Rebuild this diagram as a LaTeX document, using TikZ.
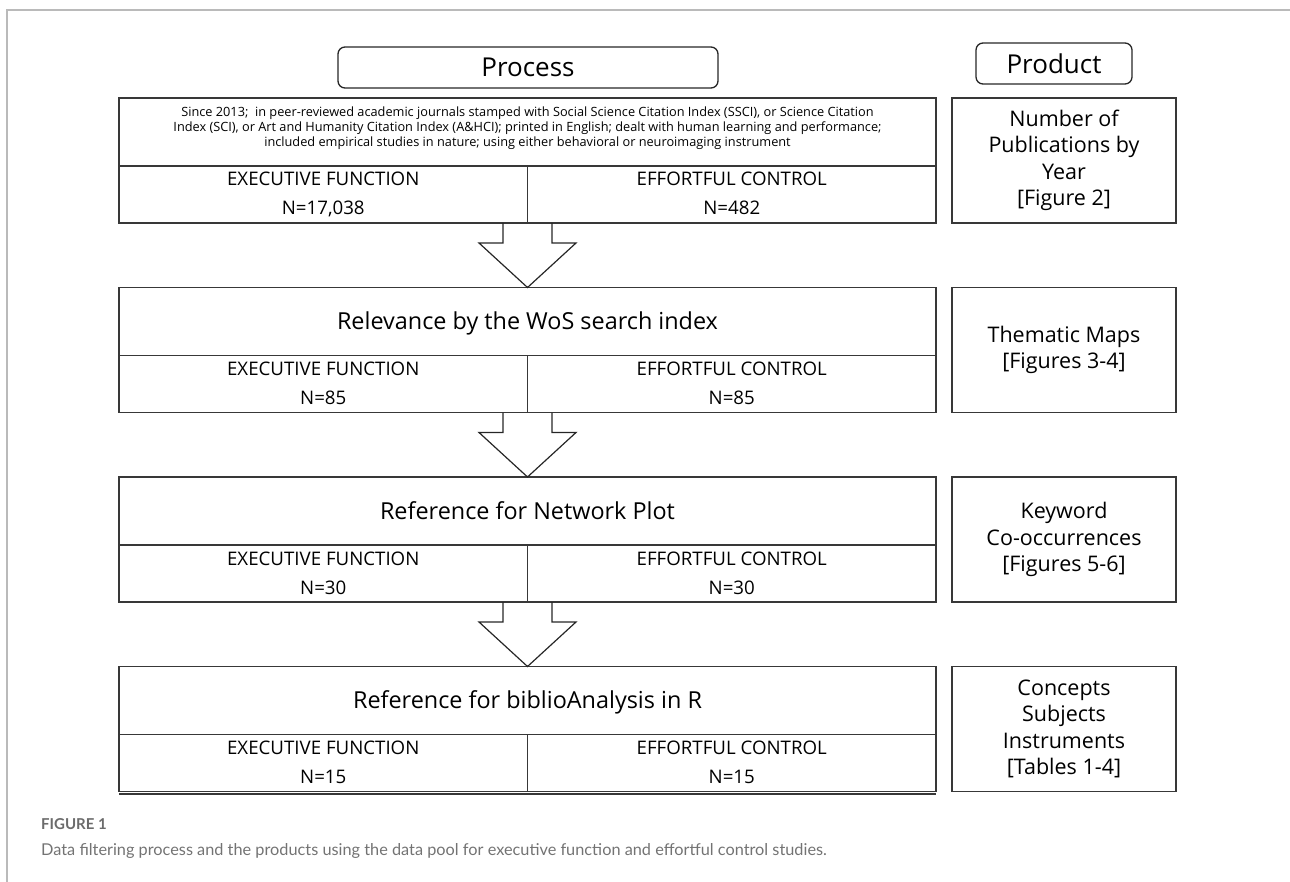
\documentclass[tikz,border=0pt]{standalone}
\usepackage{fontspec}
\setmainfont{Open Sans}
\newfontfamily\capfont{Lato}
\usetikzlibrary{calc}

\tikzset{
  frameline/.style={draw=black!27, line width=1.4pt},
  edge/.style={draw=black!78, line width=1.4pt},
  stagebox/.style={rectangle, draw=black!78, line width=1.4pt, minimum width=817pt,
    minimum height=125pt, inner sep=0pt, outer sep=0pt, anchor=north west},
  prodbox/.style={rectangle, draw=black!78, line width=1.4pt, minimum width=224pt,
    minimum height=125pt, inner sep=0pt, outer sep=0pt, anchor=north west},
  headbox/.style={rectangle, rounded corners=7pt, draw=black!85, line width=1.3pt,
    minimum height=41pt, inner sep=0pt, outer sep=0pt, font=\fontsize{26}{30}\selectfont},
  crit/.style={font=\fontsize{12.75}{15}\selectfont, anchor=base, inner sep=0pt},
  stagetitle/.style={font=\fontsize{23.4}{28}\selectfont, anchor=base, inner sep=0pt},
  armlabel/.style={font=\fontsize{18.7}{22}\selectfont, anchor=base, inner sep=0pt},
  prodtext/.style={font=\fontsize{21.5}{26.5}\selectfont, align=center, inner sep=0pt},
  blockarrow/.style={draw=black!85, line width=1.2pt, line join=miter},
  figlabel/.style={font=\capfont\bfseries\fontsize{15}{18}\selectfont, text=black!58,
    anchor=base west, inner sep=0pt},
  captext/.style={font=\capfont\fontsize{16.3}{20}\selectfont, text=black!55,
    anchor=base west, inner sep=0pt}
}

\begin{document}
\begin{tikzpicture}[x=1pt, y=-1pt]
\useasboundingbox (0,0) rectangle (1290,882);

% page frame
\draw[frameline] (7,882) -- (7,10) -- (1290,10);

% column headers
\node[headbox, minimum width=380pt] (hproc) at (528,67.5) {Process};
\node[headbox, minimum width=156pt] (hprod) at (1054,63.5) {Product};

% filtering stages (left) and their products (right)
\foreach \i/\T in {1/98, 2/287.5, 3/477, 4/666.5} {
  \node[stagebox] (p\i) at (119,\T) {};
  \node[prodbox] (q\i) at (952,\T) {};
  \draw[edge] ($(p\i.north west)+(0,68)$) -- ($(p\i.north east)+(0,68)$);
  \draw[edge] ($(p\i.south)+(0,-57)$) -- (p\i.south);
  \node[armlabel] (ef\i) at ($(p\i.north west)+(204.25,88)$) {EXECUTIVE FUNCTION};
  \node[armlabel] (ec\i) at ($(p\i.north west)+(612.75,88)$) {EFFORTFUL CONTROL};
}

% criteria of the first stage
\node[crit] (c1) at ($(p1.north)+(0,18.5)$) {Since 2013;\ \ in peer-reviewed academic journals stamped with Social Science Citation Index (SSCI), or Science Citation};
\node[crit] (c2) at ($(p1.north)+(0,33.5)$) {Index (SCI), or Art and Humanity Citation Index (A\&HCI); printed in English; dealt with human learning and performance;};
\node[crit] (c3) at ($(p1.north)+(0,48.5)$) {included empirical studies in nature; using either behavioral or neuroimaging instrument};

% stage titles
\node[stagetitle] (t2) at ($(p2.north)+(0,42)$) {Relevance by the WoS search index};
\node[stagetitle] (t3) at ($(p3.north)+(0,42)$) {Reference for Network Plot};
\node[stagetitle] (t4) at ($(p4.north)+(0,42)$) {Reference for biblioAnalysis in R};

% counts
\foreach \i/\a/\b in {1/17{,}038/482, 2/85/85, 3/30/30, 4/15/15} {
  \node[armlabel] (nef\i) at ($(p\i.north west)+(204.25,117)$) {N=\a};
  \node[armlabel] (nec\i) at ($(p\i.north west)+(612.75,117)$) {N=\b};
}

% second rule under the last stage
\draw[edge] ($(p4.south west)+(0,2.6)$) -- ($(p4.south east)+(0,2.6)$);

% product texts
\node[prodtext] (r1) at (q1.center) {Number of\\Publications by\\Year\\{[Figure 2]}};
\node[prodtext] (r2) at (q2.center) {Thematic Maps\\{[Figures 3-4]}};
\node[prodtext] (r3) at (q3.center) {Keyword\\Co-occurrences\\{[Figures 5-6]}};
\node[prodtext] (r4) at (q4.center) {Concepts\\Subjects\\Instruments\\{[Tables 1-4]}};

% hollow block arrows between stages
\foreach \i/\j in {1/2, 2/3, 3/4} {
  \draw[blockarrow] ($(p\i.south)+(-24.5,0)$) -- ($(p\i.south)+(-24.5,20)$)
    -- ($(p\i.south)+(-48.5,20)$) -- (p\j.north) -- ($(p\i.south)+(48.5,20)$)
    -- ($(p\i.south)+(24.5,20)$) -- ($(p\i.south)+(24.5,0)$);
}

% caption
\node[figlabel] (figno) at (41,829) {FIGURE 1};
\node[captext] (figcap) at (41,855) {Data filtering process and the products using the data pool for executive function and effortful control studies.};
\end{tikzpicture}
\end{document}
